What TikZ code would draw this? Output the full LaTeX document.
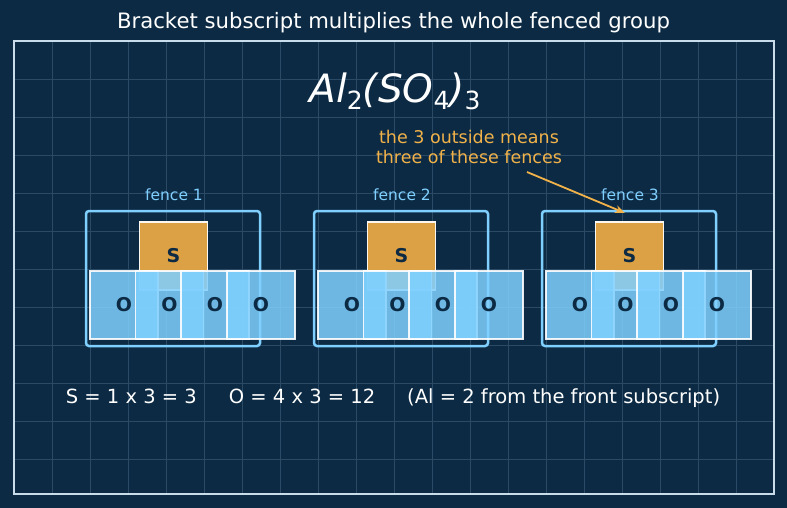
\documentclass[tikz,border=0pt]{standalone}
\usepackage{fontspec}
\setmainfont{DejaVu Sans}
\usetikzlibrary{arrows.meta}
\definecolor{bg}{HTML}{0C2A43}
\definecolor{gridc}{HTML}{2A4A66}
\definecolor{framec}{HTML}{C8DCEC}
\definecolor{fencec}{HTML}{7FCFFF}
\definecolor{obox}{HTML}{7FD0FF}
\definecolor{sbox}{HTML}{DCA045}
\definecolor{annc}{HTML}{F2B24A}
\definecolor{darktext}{HTML}{0C2A43}
\tikzset{
  gridline/.style={draw=gridc, line width=0.8pt},
  framebox/.style={draw=framec, line width=1.6pt},
  fencebox/.style={draw=fencec, line width=2.5pt, rounded corners=3pt, minimum width=174pt, minimum height=135pt, inner sep=0pt},
  sboxst/.style={fill=sbox, draw=white!92!sbox, line width=1.4pt, minimum size=68pt, inner sep=0pt},
  oboxst/.style={fill=obox, fill opacity=0.85, draw=white, draw opacity=0.9, text opacity=1, line width=1.4pt, minimum size=68pt, inner sep=0pt, text=darktext, font=\fontsize{19}{22}\selectfont\bfseries},
  fencelabel/.style={text=fencec, font=\fontsize{15.5}{18}\selectfont},
  anntext/.style={text=annc, font=\fontsize{17.5}{20}\selectfont, align=center},
  annarrow/.style={draw=annc, line width=1.8pt, -{Stealth[length=10pt,width=8pt]}},
}
\newcommand{\chemsub}[1]{\raisebox{-7pt}{\fontsize{25}{28}\selectfont #1}}
\begin{document}
\begin{tikzpicture}[x=1pt,y=-1pt]
\useasboundingbox (0,0) rectangle (787,508);
\fill[bg] (0,0) rectangle (787,508);
\foreach \x in {52,90,...,740} \draw[gridline] (\x,41) -- (\x,494);
\foreach \y in {79,117,...,470} \draw[gridline] (14,\y) -- (774,\y);
\draw[framebox] (14,41) rectangle (774,494);

\node[text=white, font=\fontsize{21.2}{24}\selectfont] (title) at (393.5,23) {Bracket subscript multiplies the whole fenced group};

\node[text=white, font=\fontsize{39}{44}\selectfont] (formula) at (395,91)
  {\textit{Al}\chemsub{2}\textit{(SO}\chemsub{4}\textit{)}\chemsub{3}};

\foreach \i/\off in {1/0,2/228,3/456}{
  \node[fencebox] (f\i) at (173+\off,278.5) {};
  \node[fencelabel] (fl\i) at (174+\off,195) {fence \i};
  \node[sboxst] (s\i) at (173.5+\off,256) {};
  \node[oboxst] (o\i a) at (124+\off,305) {O};
  \node[oboxst] (o\i b) at (169.5+\off,305) {O};
  \node[oboxst] (o\i c) at (215+\off,305) {O};
  \node[oboxst] (o\i d) at (261+\off,305) {O};
  \node[text=darktext, font=\fontsize{19}{22}\selectfont\bfseries] (sl\i) at (173.5+\off,256) {S};
}

\node[anntext] (ann) at (469,147) {the 3 outside means\\three of these fences};
\coordinate (astart) at (527,172);
\coordinate (aend) at (625,213);
\draw[annarrow] (astart) -- (aend);

\node[text=white, font=\fontsize{19.5}{23}\selectfont] (sum) at (393,398)
  {S = 1 x 3 = 3\hspace{32pt}O = 4 x 3 = 12\hspace{32pt}(Al = 2 from the front subscript)};
\end{tikzpicture}
\end{document}
